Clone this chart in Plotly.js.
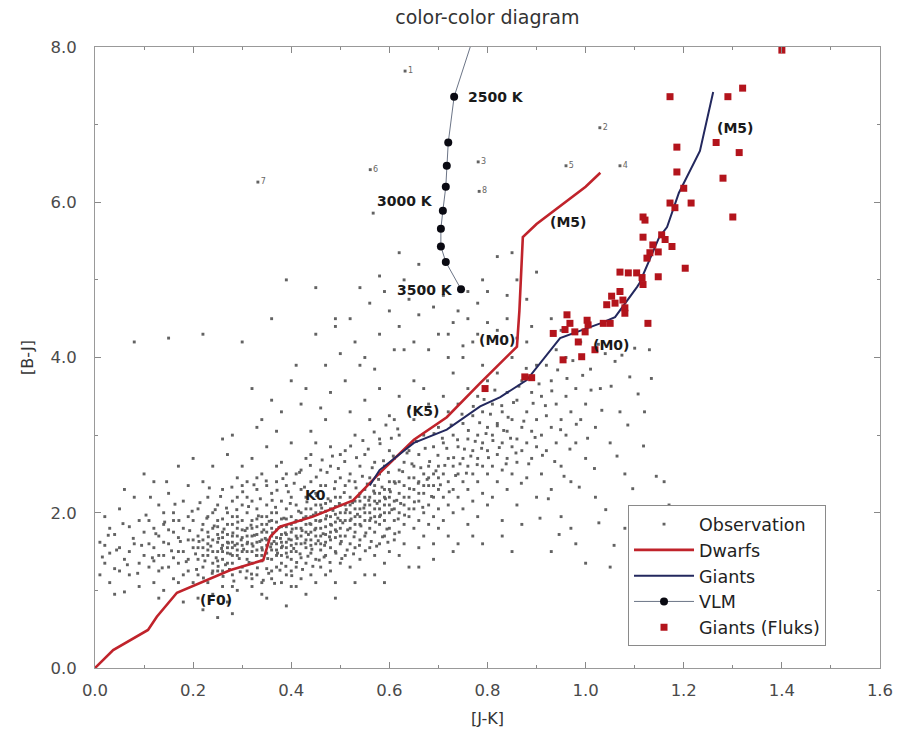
<!DOCTYPE html>
<html>
<head>
<meta charset="utf-8">
<script src="https://cdn.plot.ly/plotly-3.0.1.min.js"></script>
<style>html,body{margin:0;padding:0;background:#fff;}#chart{width:911px;height:733px;}</style>
</head>
<body>
<div id="chart"></div>
<script>
// ---- Data ----
var dwarfsJK = [0.0, 0.026, 0.037, 0.108, 0.126, 0.167, 0.194, 0.275, 0.343, 0.357, 0.377, 0.444, 0.526, 0.58, 0.65, 0.717, 0.785, 0.86, 0.865, 0.872, 0.9, 1.0, 1.03];
var dwarfsBJ = [0.0, 0.17, 0.23, 0.49, 0.66, 0.97, 1.04, 1.26, 1.39, 1.69, 1.82, 1.95, 2.16, 2.51, 2.94, 3.23, 3.67, 4.14, 4.6, 5.55, 5.72, 6.2, 6.38];

var giantsJK = [0.56, 0.58, 0.65, 0.717, 0.785, 0.826, 0.88, 0.948, 1.03, 1.06, 1.105, 1.11, 1.15, 1.166, 1.19, 1.233, 1.26];
var giantsBJ = [2.35, 2.55, 2.9, 3.07, 3.37, 3.49, 3.71, 4.25, 4.44, 4.52, 4.91, 4.96, 5.55, 5.68, 6.12, 6.66, 7.42];

var vlmJK = [0.775, 0.732, 0.72, 0.717, 0.715, 0.709, 0.705, 0.705, 0.715, 0.746];
var vlmBJ = [8.2, 7.36, 6.77, 6.47, 6.2, 5.89, 5.66, 5.43, 5.23, 4.88];

var fluksJK = [1.40, 1.172, 1.29, 1.32, 1.266, 1.313, 1.186, 1.186, 1.28, 1.2, 1.172, 1.182, 1.215, 1.30, 1.117, 1.121, 1.117, 1.155, 1.162, 1.137, 1.176, 1.131, 1.125, 1.148, 1.203, 1.148, 1.07, 1.087, 1.104, 1.117, 1.115, 1.07, 1.053, 1.06, 1.076, 1.043, 1.08, 1.08, 1.127, 1.05, 1.036, 1.003, 1.005, 0.962, 0.968, 0.958, 0.934, 0.978, 0.999, 0.985, 0.992, 1.019, 0.954, 0.876, 0.89, 0.795];
var fluksBJ = [7.96, 7.36, 7.36, 7.47, 6.77, 6.64, 6.71, 6.39, 6.31, 6.18, 5.99, 5.93, 5.99, 5.81, 5.81, 5.77, 5.55, 5.58, 5.52, 5.45, 5.43, 5.35, 5.28, 5.36, 5.15, 5.04, 5.10, 5.09, 5.09, 4.94, 5.03, 4.85, 4.79, 4.70, 4.74, 4.68, 4.64, 4.57, 4.44, 4.44, 4.44, 4.48, 4.42, 4.55, 4.44, 4.36, 4.31, 4.33, 4.33, 4.20, 4.01, 4.10, 3.97, 3.75, 3.74, 3.60];

var numberedJK = [0.632, 1.029, 0.781, 1.07, 0.96, 0.561, 0.332, 0.783];
var numberedBJ = [7.69, 6.96, 6.52, 6.47, 6.47, 6.42, 6.26, 6.14];
var numberedLabels = ["1", "2", "3", "4", "5", "6", "7", "8"];

var observations = [
[0.01,1.62],[0.02,1.35],[0.02,1.95],[0.03,1.1],[0.03,1.48],[0.04,1.72],[0.04,1.28],[0.05,2.05],[0.05,1.55],[0.06,0.98],[0.06,1.4],[0.07,1.82],[0.07,1.2],[0.08,1.6],[0.08,2.2],[0.08,4.2],[0.09,1.35],[0.09,1.05],[0.1,1.75],[0.1,1.45],[0.03,1.8],[0.05,1.25],[0.07,1.5],[0.09,1.9],[0.01,1.2],[0.06,2.3],[0.04,0.95],[0.02,1.58],
[0.11,1.3],[0.11,1.9],[0.12,1.55],[0.12,2.4],[0.12,1.1],[0.13,1.7],[0.13,1.25],[0.13,2.1],[0.14,1.45],[0.14,1.0],[0.14,1.85],[0.15,1.6],[0.15,2.25],[0.15,1.3],[0.15,4.25],[0.16,1.75],[0.16,1.15],[0.16,2.0],[0.17,1.5],[0.17,2.6],[0.17,1.35],[0.18,1.8],[0.18,1.2],[0.18,2.15],[0.18,0.85],[0.19,1.65],[0.19,1.4],[0.19,2.35],[0.2,1.55],[0.2,1.9],[0.2,1.1],[0.11,1.6],[0.12,1.8],[0.13,1.45],[0.14,2.0],[0.16,1.42],[0.17,1.68],[0.19,1.95],[0.2,2.7],[0.1,2.5],[0.14,1.62],[0.16,1.9],[0.18,1.5],[0.12,1.38],[0.15,1.78],[0.17,1.1],[0.19,1.25],[0.13,0.9],
[0.21,1.4],[0.21,1.7],[0.21,2.05],[0.21,1.2],[0.22,1.55],[0.22,1.85],[0.22,2.4],[0.22,1.3],[0.22,0.75],[0.23,1.6],[0.23,1.45],[0.23,2.2],[0.23,1.95],[0.23,1.1],[0.24,1.65],[0.24,1.35],[0.24,1.8],[0.24,2.6],[0.24,0.95],[0.25,1.5],[0.25,1.72],[0.25,2.1],[0.25,1.25],[0.25,1.9],[0.26,1.58],[0.26,1.4],[0.26,2.3],[0.26,1.75],[0.26,1.05],[0.27,1.62],[0.27,1.85],[0.27,1.48],[0.27,2.0],[0.27,2.75],[0.27,0.85],[0.28,1.55],[0.28,1.7],[0.28,1.35],[0.28,2.15],[0.28,1.95],[0.28,1.2],[0.29,1.6],[0.29,1.8],[0.29,1.45],[0.29,2.45],[0.29,1.0],[0.3,1.5],[0.3,1.68],[0.3,1.9],[0.3,2.1],[0.3,1.3],[0.3,2.6],[0.21,1.55],[0.22,1.65],[0.23,1.75],[0.24,1.5],[0.25,1.62],[0.26,1.68],[0.26,1.92],[0.27,1.55],[0.27,1.72],[0.28,1.62],[0.28,1.45],[0.29,1.7],[0.29,1.52],[0.3,1.58],[0.3,1.78],[0.24,2.0],[0.25,1.38],[0.26,1.25],[0.28,1.05],[0.29,2.2],[0.23,1.52],[0.25,1.82],[0.27,1.35],[0.29,1.95],[0.22,1.45],[0.24,1.25],[0.26,1.5],[0.28,1.85],[0.3,2.35],[0.2,1.65],[0.21,0.9],[0.25,0.65],[0.28,0.7],
[0.31,1.4],[0.31,1.6],[0.31,1.8],[0.31,2.0],[0.31,1.25],[0.31,2.4],[0.32,1.5],[0.32,1.7],[0.32,1.9],[0.32,1.35],[0.32,2.15],[0.32,1.05],[0.32,2.7],[0.33,1.45],[0.33,1.62],[0.33,1.82],[0.33,2.05],[0.33,1.2],[0.33,2.3],[0.34,1.55],[0.34,1.75],[0.34,1.38],[0.34,1.95],[0.34,2.5],[0.34,0.95],[0.35,1.48],[0.35,1.65],[0.35,1.85],[0.35,2.1],[0.35,1.28],[0.35,2.85],[0.36,1.52],[0.36,1.7],[0.36,1.9],[0.36,1.4],[0.36,2.25],[0.36,1.15],[0.37,1.6],[0.37,1.78],[0.37,1.45],[0.37,2.0],[0.37,2.4],[0.37,1.3],[0.38,1.55],[0.38,1.72],[0.38,1.92],[0.38,1.35],[0.38,2.15],[0.38,2.65],[0.39,1.62],[0.39,1.82],[0.39,1.48],[0.39,2.05],[0.39,1.2],[0.39,2.35],[0.4,1.58],[0.4,1.75],[0.4,1.95],[0.4,1.4],[0.4,2.2],[0.4,2.9],[0.4,1.05],
[0.31,1.5],[0.31,1.7],[0.32,1.6],[0.32,1.8],[0.33,1.52],[0.33,1.72],[0.33,1.92],[0.34,1.65],[0.34,1.85],[0.34,1.45],[0.35,1.58],[0.35,1.75],[0.35,1.95],[0.36,1.6],[0.36,1.8],[0.36,2.0],[0.37,1.52],[0.37,1.68],[0.37,1.88],[0.38,1.62],[0.38,1.82],[0.38,1.45],[0.39,1.55],[0.39,1.72],[0.39,1.92],[0.4,1.65],[0.4,1.85],[0.4,1.5],[0.31,2.2],[0.33,2.45],[0.35,2.35],[0.37,2.6],[0.39,2.5],[0.32,1.15],[0.34,1.1],[0.36,1.25],[0.38,1.1],[0.4,1.25],[0.35,0.9],[0.39,0.8],[0.33,3.1],[0.37,3.05],
[0.41,1.5],[0.41,1.7],[0.41,1.9],[0.41,2.1],[0.41,1.3],[0.41,2.5],[0.42,1.6],[0.42,1.8],[0.42,2.0],[0.42,1.42],[0.42,2.3],[0.42,1.15],[0.43,1.55],[0.43,1.75],[0.43,1.95],[0.43,2.2],[0.43,1.35],[0.43,2.7],[0.44,1.65],[0.44,1.85],[0.44,2.05],[0.44,1.48],[0.44,2.4],[0.44,1.2],[0.45,1.6],[0.45,1.8],[0.45,2.0],[0.45,1.4],[0.45,2.25],[0.45,2.9],[0.46,1.7],[0.46,1.9],[0.46,2.1],[0.46,1.52],[0.46,2.55],[0.46,1.3],[0.47,1.62],[0.47,1.82],[0.47,2.02],[0.47,1.45],[0.47,2.35],[0.47,3.2],[0.48,1.75],[0.48,1.95],[0.48,2.15],[0.48,1.55],[0.48,2.6],[0.48,1.25],[0.49,1.68],[0.49,1.88],[0.49,2.08],[0.49,1.5],[0.49,2.4],[0.49,1.1],[0.5,1.8],[0.5,2.0],[0.5,2.2],[0.5,1.6],[0.5,2.75],[0.5,1.35],
[0.41,1.6],[0.41,1.8],[0.42,1.7],[0.42,1.9],[0.43,1.65],[0.43,1.85],[0.43,2.05],[0.44,1.75],[0.44,1.95],[0.44,1.58],[0.45,1.7],[0.45,1.9],[0.45,2.1],[0.46,1.8],[0.46,2.0],[0.46,1.6],[0.47,1.72],[0.47,1.92],[0.47,2.12],[0.48,1.85],[0.48,2.05],[0.48,1.65],[0.49,1.78],[0.49,1.98],[0.49,2.2],[0.5,1.9],[0.5,2.1],[0.5,1.7],[0.42,2.55],[0.44,2.75],[0.46,2.35],[0.48,2.85],[0.5,2.45],[0.41,1.05],[0.43,0.95],[0.45,1.1],[0.47,1.2],[0.49,0.9],[0.44,3.05],[0.46,3.35],[0.42,3.4],[0.48,3.55],
[0.51,1.7],[0.51,1.9],[0.51,2.1],[0.51,2.35],[0.51,1.45],[0.51,2.8],[0.52,1.8],[0.52,2.0],[0.52,2.2],[0.52,1.6],[0.52,2.5],[0.52,1.3],[0.53,1.75],[0.53,1.95],[0.53,2.15],[0.53,1.55],[0.53,2.4],[0.53,3.0],[0.54,1.85],[0.54,2.05],[0.54,2.25],[0.54,1.65],[0.54,2.6],[0.54,1.4],[0.55,1.9],[0.55,2.1],[0.55,2.3],[0.55,1.7],[0.55,2.75],[0.55,1.2],[0.56,1.8],[0.56,2.0],[0.56,2.2],[0.56,2.45],[0.56,1.55],[0.56,3.2],[0.57,1.95],[0.57,2.15],[0.57,2.35],[0.57,1.75],[0.57,2.65],[0.57,1.45],[0.58,1.85],[0.58,2.05],[0.58,2.25],[0.58,2.5],[0.58,1.6],[0.58,2.95],[0.59,1.9],[0.59,2.1],[0.59,2.3],[0.59,1.7],[0.59,2.6],[0.59,1.35],[0.6,2.0],[0.6,2.2],[0.6,2.4],[0.6,1.8],[0.6,2.8],[0.6,1.5],
[0.51,2.0],[0.52,1.9],[0.52,2.1],[0.53,2.05],[0.53,1.85],[0.54,1.95],[0.54,2.15],[0.55,2.0],[0.55,2.2],[0.56,1.9],[0.56,2.1],[0.57,2.05],[0.57,2.25],[0.58,1.95],[0.58,2.15],[0.59,2.0],[0.59,2.2],[0.6,2.1],[0.6,2.3],[0.52,3.3],[0.55,3.45],[0.58,3.6],[0.6,3.25],[0.53,1.1],[0.57,1.2],[0.51,3.7],[0.54,3.9],[0.59,1.1],
[0.61,1.9],[0.61,2.15],[0.61,2.4],[0.61,1.65],[0.61,2.7],[0.62,2.0],[0.62,2.25],[0.62,1.75],[0.62,2.55],[0.62,3.0],[0.62,1.45],[0.63,1.85],[0.63,2.1],[0.63,2.35],[0.63,2.65],[0.63,1.6],[0.64,1.95],[0.64,2.2],[0.64,2.45],[0.64,2.8],[0.64,1.3],[0.65,2.05],[0.65,2.3],[0.65,1.8],[0.65,2.6],[0.65,3.2],[0.66,1.9],[0.66,2.15],[0.66,2.4],[0.66,2.75],[0.66,1.55],[0.67,2.0],[0.67,2.25],[0.67,2.5],[0.67,1.7],[0.67,3.0],[0.68,2.1],[0.68,2.35],[0.68,2.6],[0.68,1.85],[0.68,3.4],[0.69,1.95],[0.69,2.2],[0.69,2.5],[0.69,2.85],[0.69,1.6],[0.7,2.05],[0.7,2.3],[0.7,2.6],[0.7,1.8],[0.7,3.1],
[0.61,2.05],[0.62,2.4],[0.63,2.2],[0.64,2.05],[0.65,2.45],[0.66,2.25],[0.67,2.35],[0.68,2.45],[0.69,2.35],[0.7,2.45],[0.62,3.5],[0.65,3.7],[0.67,3.6],[0.63,4.1],[0.66,1.3],[0.69,1.4],[0.64,3.35],[0.61,3.2],
[0.71,2.2],[0.71,2.5],[0.71,1.9],[0.71,2.9],[0.71,3.5],[0.72,2.1],[0.72,2.4],[0.72,2.7],[0.72,1.7],[0.72,3.3],[0.73,2.3],[0.73,2.6],[0.73,2.0],[0.73,3.0],[0.73,3.8],[0.74,2.2],[0.74,2.5],[0.74,2.85],[0.74,1.6],[0.74,3.4],[0.75,2.4],[0.75,2.7],[0.75,2.05],[0.75,3.15],[0.75,4.0],[0.76,2.3],[0.76,2.6],[0.76,2.95],[0.76,1.85],[0.76,3.6],[0.77,2.5],[0.77,2.8],[0.77,2.15],[0.77,3.25],[0.77,4.2],[0.78,2.4],[0.78,2.7],[0.78,3.0],[0.78,1.95],[0.78,3.5],[0.79,2.6],[0.79,2.9],[0.79,2.25],[0.79,3.3],[0.79,3.9],[0.8,2.5],[0.8,2.8],[0.8,3.1],[0.8,2.1],[0.8,3.7],[0.72,4.3],[0.74,4.6],[0.76,4.5],[0.78,4.3],[0.8,4.45],[0.73,1.5],[0.77,1.7],[0.79,1.6],
[0.81,2.6],[0.81,3.0],[0.81,2.2],[0.81,3.4],[0.82,2.75],[0.82,3.15],[0.82,2.4],[0.82,3.8],[0.83,2.9],[0.83,2.55],[0.83,3.3],[0.83,1.9],[0.84,2.7],[0.84,3.05],[0.84,3.55],[0.84,2.3],[0.85,2.85],[0.85,3.2],[0.85,2.5],[0.85,4.0],[0.86,2.95],[0.86,2.65],[0.86,3.45],[0.86,2.1],[0.87,3.1],[0.87,2.8],[0.87,3.7],[0.88,2.9],[0.88,3.3],[0.88,2.45],[0.88,4.2],[0.89,3.05],[0.89,2.7],[0.89,3.55],[0.9,3.2],[0.9,2.85],[0.9,3.9],[0.9,2.2],[0.82,4.35],[0.84,4.5],[0.86,4.25],[0.89,4.4],[0.83,1.7],[0.87,1.85],[0.85,1.5],
[0.91,3.0],[0.91,3.5],[0.91,2.5],[0.92,3.25],[0.92,2.8],[0.92,3.9],[0.93,3.1],[0.93,2.3],[0.93,3.7],[0.94,3.4],[0.94,2.9],[0.94,4.1],[0.95,3.2],[0.95,2.6],[0.95,1.95],[0.96,3.5],[0.96,3.0],[0.96,4.0],[0.97,3.3],[0.97,2.4],[0.98,3.6],[0.98,2.9],[0.98,1.6],[0.99,3.2],[0.99,4.2],[1.0,3.4],[1.0,2.7],[1.0,1.35],[0.93,1.5],[0.97,1.8],
[1.01,3.85],[1.02,3.1],[1.02,2.2],[1.03,3.6],[1.04,4.05],[1.05,2.9],[1.06,3.95],[1.07,3.3],[1.08,2.5],[1.09,3.75],[1.1,4.12],[1.12,3.3],[1.13,4.1],[1.16,2.4],[1.17,2.1],[1.05,1.3],[1.08,1.8],
[0.32,3.6],[0.34,3.2],[0.36,3.45],[0.38,3.3],[0.4,3.7],[0.28,3.0],[0.26,2.95],[0.41,3.9],[0.43,3.6],[0.45,4.3],[0.47,3.9],[0.49,4.4],[0.5,4.05],[0.52,4.5],[0.53,4.2],[0.55,4.0],[0.56,4.7],[0.57,3.85],[0.58,4.3],[0.59,4.85],[0.6,4.6],[0.61,4.1],[0.62,4.4],[0.63,5.0],[0.64,4.75],[0.65,4.2],[0.66,4.55],[0.67,4.9],[0.68,4.1],[0.69,4.65],[0.7,4.3],[0.71,4.8],[0.72,4.0],[0.73,4.45],[0.75,4.15],[0.76,4.85],[0.78,4.7],[0.79,5.0],[0.8,4.85],[0.82,5.3],[0.84,4.8],[0.86,5.0],[0.88,4.75],[0.66,5.2],[0.58,5.05],[0.49,4.5],[0.36,4.5],[0.39,5.0],[0.3,4.2],[0.22,4.3],[0.45,4.9],[0.54,4.9],[0.62,5.35],[0.85,5.35],[0.9,5.1],[0.93,4.5],[0.95,4.35],[0.567,5.86]
];

var observationsCore = [
[0.205,1.47],[0.212,1.63],[0.218,1.78],[0.224,1.38],[0.231,1.69],[0.236,1.57],[0.243,1.83],[0.247,1.42],[0.252,1.67],[0.258,1.54],[0.263,1.79],[0.266,1.33],[0.272,1.61],[0.276,1.47],[0.281,1.74],[0.285,1.58],[0.291,1.88],[0.294,1.41],[0.298,1.65],[0.303,1.53],[0.306,1.77],[0.311,1.62],[0.314,1.36],[0.318,1.84],[0.322,1.57],[0.325,1.71],[0.329,1.45],[0.333,1.96],[0.336,1.63],[0.341,1.52],[0.344,1.78],[0.347,1.67],[0.352,1.41],[0.355,1.89],[0.358,1.56],[0.362,1.74],[0.365,1.63],[0.368,2.07],[0.372,1.48],[0.375,1.81],[0.378,1.67],[0.382,1.57],[0.385,1.93],[0.388,1.74],[0.392,1.43],[0.395,1.66],[0.398,2.12],[0.402,1.79],[0.405,1.54],[0.408,1.88],[0.412,1.67],[0.415,2.02],[0.418,1.47],[0.422,1.77],[0.425,1.93],[0.428,1.61],[0.432,2.14],[0.435,1.72],[0.438,1.86],[0.442,1.53],[0.445,1.97],[0.448,1.78],[0.452,2.22],[0.455,1.64],[0.458,1.89],[0.462,2.06],[0.465,1.73],[0.468,1.58],[0.472,1.96],[0.475,2.18],[0.478,1.69],[0.482,1.84],[0.485,2.03],[0.488,2.31],[0.492,1.76],[0.495,1.93],[0.498,2.12],[0.502,1.63],[0.505,1.87],[0.508,2.26],[0.512,2.04],[0.515,1.78],[0.518,2.41],[0.522,1.92],[0.525,2.13],[0.528,1.69],[0.532,2.32],[0.535,1.98],[0.538,2.21],[0.542,1.83],[0.545,2.47],[0.548,2.06],[0.552,1.74],[0.555,2.37],[0.558,2.16],[0.562,1.93],[0.565,2.58],[0.568,2.28],[0.572,1.88],[0.575,2.12],[0.578,2.43],[0.582,1.97],[0.585,2.33],[0.588,2.67],[0.592,2.18],[0.595,1.79],[0.598,2.52],[0.602,2.27],[0.605,2.04],[0.608,2.73],[0.612,2.38],[0.615,2.16],[0.618,1.92],
[0.207,1.27],[0.214,2.13],[0.221,1.16],[0.228,1.93],[0.233,2.32],[0.239,1.22],[0.245,2.04],[0.251,1.31],[0.256,2.21],[0.261,1.18],[0.268,2.06],[0.274,1.27],[0.279,2.33],[0.283,1.12],[0.289,2.04],[0.296,1.24],[0.301,2.27],[0.308,1.16],[0.313,2.08],[0.319,1.21],[0.324,2.36],[0.331,1.29],[0.337,2.18],[0.343,1.13],[0.349,2.41],[0.354,1.22],[0.361,2.16],[0.366,1.09],[0.371,2.29],[0.377,1.26],[0.383,2.44],[0.389,1.31],[0.394,2.27],[0.401,1.19],[0.406,2.38],[0.411,1.36],[0.417,2.52],[0.423,1.27],[0.427,2.33],[0.434,1.44],[0.439,2.61],[0.444,1.31],[0.451,2.46],[0.457,1.39],[0.463,2.68],[0.467,1.43],[0.473,2.52],[0.479,1.36],[0.484,2.73],[0.491,1.48],[0.496,2.57],[0.503,1.41],[0.509,2.66],[0.514,1.52],[0.521,2.86],[0.527,1.47],[0.533,2.71],[0.539,1.58],[0.546,2.93],[0.551,1.51],[0.557,2.82],[0.563,1.63],[0.569,3.04],[0.574,1.57],[0.581,2.89],[0.586,1.69],[0.593,3.13],[0.597,1.62],[0.604,2.96],[0.611,1.73],[0.617,3.08],
[0.623,2.12],[0.627,2.53],[0.631,1.97],[0.636,2.77],[0.641,2.31],[0.646,2.63],[0.651,2.14],[0.655,2.92],[0.659,2.38],[0.664,2.58],[0.668,2.07],[0.673,2.83],[0.677,2.43],[0.682,2.66],[0.686,2.21],[0.691,3.02],[0.695,2.54],[0.699,2.74],[0.704,2.36],[0.708,2.96],[0.713,2.61],[0.717,2.83],[0.722,2.27],[0.726,3.13],[0.731,2.71],[0.735,2.48],[0.739,2.94],[0.744,2.63],[0.748,3.27],[0.753,2.82],[0.757,2.51],[0.761,3.06],[0.766,2.73],[0.771,3.37],[0.775,2.92],[0.779,2.62],[0.784,3.16],[0.788,2.83],[0.793,3.46],[0.797,3.02],[0.802,2.71],[0.806,3.27],[0.811,2.93],[0.815,3.58],[0.82,3.12],[0.824,2.84],[0.829,3.38],[0.833,3.06],[0.838,2.63],[0.842,3.23],[0.847,2.96],
[0.015,1.43],[0.027,1.71],[0.044,1.52],[0.057,1.86],[0.066,1.33],[0.078,1.67],[0.087,1.22],[0.095,1.58],[0.104,1.97],[0.117,1.42],[0.124,1.73],[0.137,1.29],[0.142,1.88],[0.156,1.51],[0.163,2.11],[0.174,1.63],[0.186,1.37],[0.193,1.77],[0.198,2.02],[0.113,2.2],[0.146,2.4],[0.171,1.9],
[0.853,3.42],[0.858,2.77],[0.864,3.63],[0.869,2.38],[0.874,3.18],[0.879,3.86],[0.884,2.63],[0.893,3.41],[0.897,2.97],[0.905,3.66],[0.912,2.74],[0.918,3.38],[0.924,2.18],[0.931,3.57],[0.937,2.66],[0.943,3.84],[0.949,3.07],[0.956,2.47],[0.962,3.73],[0.968,2.82],[0.974,3.96],[0.981,3.14],[0.987,2.33],[0.994,3.77],[1.004,2.96],[1.011,3.58],[1.018,2.57],[1.026,4.17],[1.033,3.32],[1.041,2.04],[1.052,3.63],[1.064,2.73],[1.074,4.03],[1.086,3.13],[1.096,2.31],[1.107,3.53],[1.118,2.86],[1.134,3.73],[1.144,2.47],[1.058,1.58],[1.027,1.87],[0.946,1.72],[0.907,1.93]
];

var allObs = observations.concat(observationsCore);
var obsJK = allObs.map(function (p) { return p[0]; });
var obsBJ = allObs.map(function (p) { return p[1]; });

// ---- Traces ----
var FONT = "DejaVu Sans, Verdana, sans-serif";
var tickFont = {family: FONT, size: 16.5, color: "#4a4a4a"};

var traces = [
  {
    name: "Observation", type: "scatter", mode: "markers",
    x: obsJK, y: obsBJ,
    marker: {symbol: "square", size: 2.9, color: "#626262"}
  },
  {
    name: "numbered", type: "scatter", mode: "markers+text", showlegend: false,
    x: numberedJK, y: numberedBJ, text: numberedLabels, textposition: "middle right",
    textfont: {family: FONT, size: 8, color: "#666"},
    marker: {symbol: "square", size: 2.9, color: "#626262"}
  },
  {
    name: "Dwarfs", type: "scatter", mode: "lines",
    x: dwarfsJK, y: dwarfsBJ,
    line: {color: "#c0232b", width: 2.6}
  },
  {
    name: "Giants", type: "scatter", mode: "lines",
    x: giantsJK, y: giantsBJ,
    line: {color: "#23285e", width: 2}
  },
  {
    name: "VLM", type: "scatter", mode: "lines+markers",
    x: vlmJK, y: vlmBJ,
    line: {color: "#5a6478", width: 0.9},
    marker: {symbol: "circle", size: 8, color: "#0a0a12"}
  },
  {
    name: "Giants (Fluks)", type: "scatter", mode: "markers",
    x: fluksJK, y: fluksBJ,
    marker: {symbol: "square", size: 7, color: "#b3141c"}
  }
];

var annFont = {family: FONT, size: 14, color: "#1a1a1a"};
function ann(x, y, t, xa) {
  return {x: x, y: y, xref: "x", yref: "y", text: "<b>" + t + "</b>", showarrow: false,
          xanchor: xa || "center", yanchor: "middle", font: annFont};
}

var layout = {
  width: 911, height: 733,
  paper_bgcolor: "#ffffff", plot_bgcolor: "#ffffff",
  margin: {l: 95, r: 31, t: 47, b: 65},
  title: {text: "color-color diagram", x: 0.535, xanchor: "center", y: 0.977, yanchor: "middle",
          font: {family: FONT, size: 19, color: "#333"}},
  showlegend: true,
  legend: {
    x: 0.679, y: 0.262, xanchor: "left", yanchor: "top",
    bgcolor: "#ffffff", bordercolor: "#8a8a8a", borderwidth: 1,
    font: {family: FONT, size: 17.5, color: "#222"},
    itemwidth: 60, tracegroupgap: 0
  },
  xaxis: {
    range: [0, 1.6], dtick: 0.2, tick0: 0, tickformat: ".1f",
    ticks: "inside", ticklen: 6, tickcolor: "#888", showline: true, linecolor: "#999", linewidth: 1,
    mirror: "ticks", showgrid: false, zeroline: false,
    minor: {dtick: 0.1, ticks: "inside", ticklen: 3, tickcolor: "#888"},
    tickfont: tickFont, ticklabelstandoff: 7,
    title: {text: "[J-K]", font: {family: FONT, size: 16, color: "#333"}, standoff: 14}
  },
  yaxis: {
    range: [0, 8], dtick: 2, tick0: 0, tickformat: ".1f",
    ticks: "inside", ticklen: 6, tickcolor: "#888", showline: true, linecolor: "#999", linewidth: 1,
    mirror: "ticks", showgrid: false, zeroline: false,
    minor: {dtick: 1, ticks: "inside", ticklen: 3, tickcolor: "#888"},
    tickfont: tickFont, ticklabelstandoff: 14,
    title: {text: "[B-J]", font: {family: FONT, size: 16, color: "#333"}, standoff: 12}
  },
  annotations: [
    ann(0.756, 7.36, "2500 K", "left"),
    ann(0.693, 6.02, "3000 K", "right"),
    ann(0.734, 4.87, "3500 K", "right"),
    ann(0.964, 5.75, "(M5)"),
    ann(1.305, 6.96, "(M5)"),
    ann(0.82, 4.23, "(M0)"),
    ann(1.052, 4.16, "(M0)"),
    ann(0.667, 3.31, "(K5)"),
    ann(0.45, 2.23, "K0"),
    ann(0.247, 0.88, "(F0)")
  ]
};

Plotly.newPlot("chart", traces, layout, {displayModeBar: false, staticPlot: true});
</script>
</body>
</html>
